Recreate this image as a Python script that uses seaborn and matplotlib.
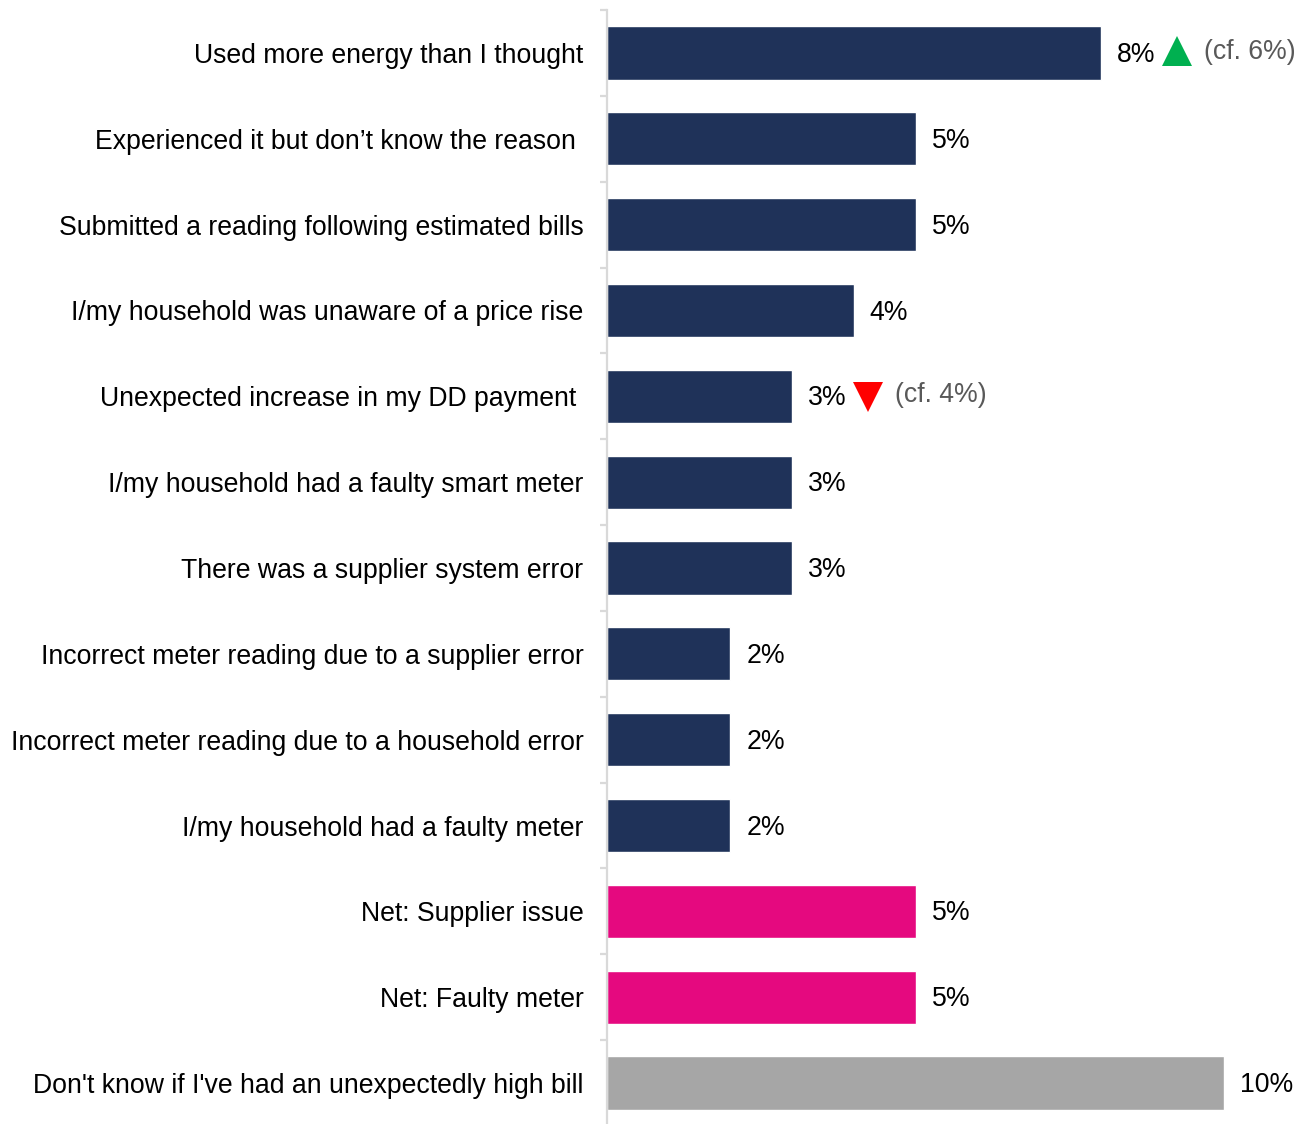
import matplotlib
matplotlib.use("Agg")
import matplotlib.pyplot as plt
import matplotlib.transforms as mtransforms
import seaborn as sns
import pandas as pd
import numpy as np

categories = [
    "Used more energy than I thought",
    "Experienced it but don\u2019t know the reason ",
    "Submitted a reading following estimated bills",
    "I/my household was unaware of a price rise",
    "Unexpected increase in my DD payment ",
    "I/my household had a faulty smart meter",
    "There was a supplier system error",
    "Incorrect meter reading due to a supplier error",
    "Incorrect meter reading due to a household error",
    "I/my household had a faulty meter",
    "Net: Supplier issue",
    "Net: Faulty meter",
    "Don't know if I've had an unexpectedly high bill",
]
values = [8, 5, 5, 4, 3, 3, 3, 2, 2, 2, 5, 5, 10]
groups = ["reason"] * 10 + ["net"] * 2 + ["dont_know"]
# significant changes vs previous wave: (category index, direction, previous value)
changes = [(0, "up", 6), (4, "down", 4)]

palette = {"reason": "#1F3259", "net": "#E5097F", "dont_know": "#A6A6A6"}

df = pd.DataFrame({"category": categories, "value": values, "group": groups})

sns.set_theme(style="white")
plt.rcParams["font.family"] = ["Liberation Sans", "DejaVu Sans"]

FS = 19.2

fig = plt.figure(figsize=(12.99, 11.24), dpi=100)
ax = fig.add_axes([607 / 1299, -2 / 1124, 1 - 607 / 1299, 1 - 8 / 1124])

sns.barplot(data=df, x="value", y="category", hue="group", palette=palette,
            dodge=False, legend=False, width=0.62, orient="h", ax=ax,
            saturation=1)

ax.set_xlim(0, (1299 - 607) / 61.7)
ax.set_ylim(len(categories) - 0.5, -0.5)
ax.set_xlabel("")
ax.set_ylabel("")
ax.xaxis.set_visible(False)
for s in ["top", "right", "bottom"]:
    ax.spines[s].set_visible(False)
ax.spines["left"].set_color("#D9D9D9")
ax.spines["left"].set_linewidth(1.6)

ax.set_yticks(range(len(categories)))
ax.set_yticklabels(categories, fontsize=FS, color="black")
ax.tick_params(axis="y", which="major", length=0, pad=17)
ax.set_yticks(np.arange(-0.5, len(categories), 1.0), minor=True)
ax.tick_params(axis="y", which="minor", length=5, width=1.6,
               color="#D9D9D9", left=True)

# value labels
for i, v in enumerate(values):
    ax.annotate(f"{v}%", xy=(v, i), xytext=(11.5, -1.5), textcoords="offset points",
                ha="left", va="center", fontsize=FS, color="black")

# change markers and comparison text
for idx, direction, prev in changes:
    v = values[idx]
    marker = "^" if direction == "up" else "v"
    color = "#00B050" if direction == "up" else "#FF0000"
    dy = 1.5 if direction == "up" else -0.5
    trans = mtransforms.offset_copy(ax.transData, fig=fig, x=76 * 72 / 100,
                                    y=dy, units="points")
    ax.plot([v], [idx], marker=marker, markersize=21, color=color,
            markeredgewidth=0, transform=trans, clip_on=False)
    ax.annotate(f"(cf. {prev}%)", xy=(v, idx), xytext=(103 * 72 / 100, 1.0),
                textcoords="offset points", ha="left", va="center",
                fontsize=FS, color="#595959", annotation_clip=False)

fig.savefig("out.png", dpi=100)
